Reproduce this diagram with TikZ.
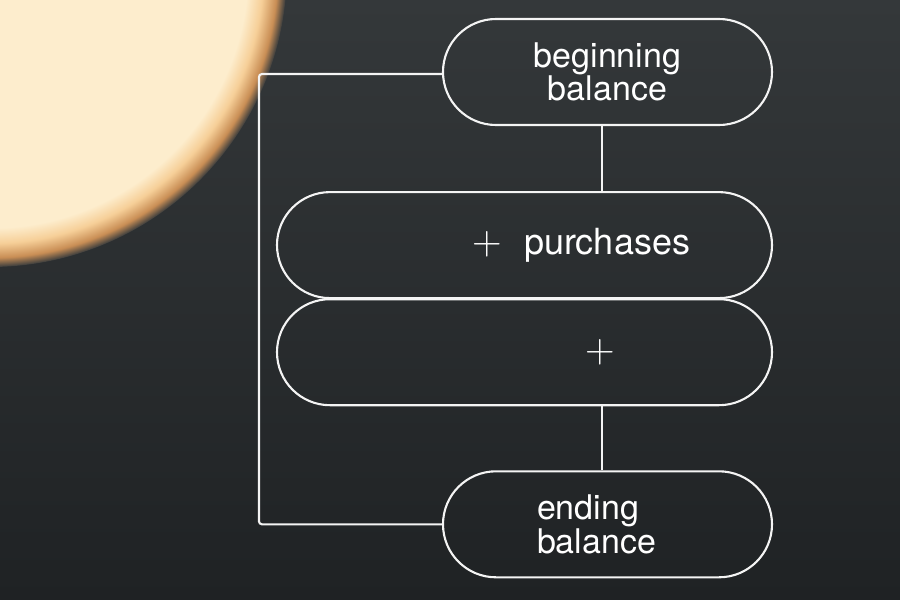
\documentclass[tikz,border=0pt]{standalone}
\usepackage{fontspec}
\setmainfont{TeX Gyre Heros}
\usepackage{tikz}
\usetikzlibrary{positioning}
\usepackage{xcolor}

\definecolor{bgtop}{HTML}{34383A}
\definecolor{bgbot}{HTML}{1F2224}
\definecolor{glowin}{HTML}{FDEDCD}
\definecolor{glowmid}{HTML}{F6CF98}
\definecolor{glowedge}{HTML}{C98E55}
\definecolor{glowout}{HTML}{393C3D}
\definecolor{linecol}{HTML}{F4F4F4}
\pgfdeclareradialshading{glow}{\pgfpoint{0bp}{0bp}}{color(0bp)=(glowin); color(21.7bp)=(glowin); color(23bp)=(glowmid); color(24.2bp)=(glowedge); color(25bp)=(glowout); color(50bp)=(glowout)}
\newcommand{\plusfont}{\fontfamily{lmr}\fontsize{41}{41}\selectfont}

\begin{document}
\begin{tikzpicture}[x=1pt,y=-1pt,line width=2.1pt]
    \tikzstyle{pill}=[draw=linecol,rounded corners=53pt,minimum height=106pt,inner sep=0pt,text=white,font=\fontsize{34}{31}\selectfont]

    \shade[top color=bgtop,bottom color=bgbot] (0,0) rectangle (900,600);
    \useasboundingbox (0,0) rectangle (900,600);
    \begin{scope}
        \clip (0,0) rectangle (900,600);
        \shade[shading=glow] (-10,-30) circle (297);
    \end{scope}

    \node[pill,minimum width=329pt,align=center]                  (begin) at (607.5,72) {beginning\\balance};
    \node[pill,minimum width=495pt,text width=331pt,align=right]  (purch) [below=65pt of begin.south east,anchor=north east] {{\plusfont +}\hspace{22pt}{\fontsize{36}{36}\selectfont purchases}};
    \node[pill,minimum width=495pt,text width=182pt,align=right]  (other) [below=-1pt of purch] {{\plusfont +}};
    \node[pill,minimum width=329pt,text width=141pt,align=left]   (ending) [below=64pt of other.south east,anchor=north east] {ending\\balance};

    \draw[linecol] ([xshift=-5.5pt]begin.south) -- ([xshift=-5.5pt]begin.south |- purch.north);
    \draw[linecol] ([xshift=-5.5pt]ending.north |- other.south) -- ([xshift=-5.5pt]ending.north);
    \draw[linecol,rounded corners=3pt] ([yshift=-2pt]begin.west) -- ++(-183,0) |- (ending.west);
\end{tikzpicture}
\end{document}
